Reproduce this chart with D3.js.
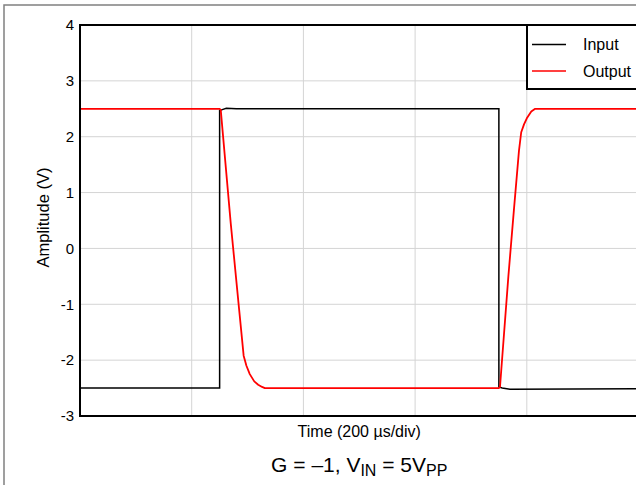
<!DOCTYPE html>
<html><head><meta charset="utf-8">
<script src="https://cdn.jsdelivr.net/npm/d3@7"></script>
<style>body{margin:0;background:#fff}svg{display:block;font-family:"Liberation Sans",Arial,sans-serif}</style>
</head><body>
<svg id="c" width="636" height="485"></svg>
<script>
const yTicks = [-3, -2, -1, 0, 1, 2, 3, 4];
const xGridTimes = [0, 200, 400, 600, 800, 1000];
const seriesNames = ["Input", "Output"];
const seriesColors = ["#000000", "#ff0000"];
const inputTime  = [0, 250, 250, 256, 262, 280, 750, 750, 756, 770, 1000];
const inputValue = [-2.5, -2.5, 2.47, 2.49, 2.51, 2.5, 2.5, -2.48, -2.5, -2.52, -2.51];
const outputTime  = [0, 250, 252, 270, 285, 293, 298, 304, 312, 319, 326, 331, 750, 752, 767, 777, 786, 790, 795, 800, 808, 815, 1000];
const outputValue = [2.5, 2.5, 2.48, 0.44, -1.1, -1.92, -2.1, -2.25, -2.38, -2.44, -2.48, -2.5, -2.5, -2.48, -0.5, 0.7, 1.75, 2.08, 2.22, 2.33, 2.45, 2.5, 2.5];

const svg = d3.select("#c");
const L = 80, T = 25, B = 416, R = 638.5;
const x = d3.scaleLinear().domain([0, 1000]).range([L, R]);
const y = d3.scaleLinear().domain([-3, 4]).range([B, T]);

// outer frame
svg.append("rect").attr("x", 4).attr("y", 5).attr("width", 700).attr("height", 600)
  .attr("fill", "none").attr("stroke", "#808080").attr("stroke-width", 1.5);

// grid
svg.append("g").selectAll("line").data(yTicks).join("line")
  .attr("x1", L).attr("x2", R).attr("y1", d => y(d)).attr("y2", d => y(d))
  .attr("stroke", "#d4d4d4").attr("stroke-width", 1);
svg.append("g").selectAll("line").data(xGridTimes).join("line")
  .attr("x1", d => x(d)).attr("x2", d => x(d)).attr("y1", T).attr("y2", B)
  .attr("stroke", "#d4d4d4").attr("stroke-width", 1);

// y tick labels via axis
const ya = svg.append("g").attr("transform", `translate(${L},0)`)
  .call(d3.axisLeft(y).tickValues(yTicks).tickSize(0).tickPadding(6).tickFormat(d => String(d)));
ya.select(".domain").remove();
ya.selectAll("text").attr("font-size", 15).attr("fill", "#000").attr("font-family", "Liberation Sans, Arial, sans-serif");

// lines
const line = d3.line().x(d => x(d[0])).y(d => y(d[1]));
const inp = inputTime.map((t, i) => [t, inputValue[i]]);
const out = outputTime.map((t, i) => [t, outputValue[i]]);
svg.append("path").datum(inp).attr("d", line).attr("fill", "none")
  .attr("stroke", seriesColors[0]).attr("stroke-width", 1.5);
svg.append("path").datum(out).attr("d", line).attr("fill", "none")
  .attr("stroke", seriesColors[1]).attr("stroke-width", 1.8).attr("stroke-linejoin", "round");

// plot frame
svg.append("rect").attr("x", L).attr("y", T).attr("width", R - L).attr("height", B - T)
  .attr("fill", "none").attr("stroke", "#000").attr("stroke-width", 2);

// legend
const lg = svg.append("g");
lg.append("rect").attr("x", 527).attr("y", 25).attr("width", 120).attr("height", 64)
  .attr("fill", "#fff").attr("stroke", "#000").attr("stroke-width", 2);
seriesNames.forEach((n, i) => {
  const yy = 44.5 + i * 26.5;
  lg.append("line").attr("x1", 532).attr("x2", 566).attr("y1", yy).attr("y2", yy)
    .attr("stroke", seriesColors[i]).attr("stroke-width", 1.3);
  lg.append("text").attr("x", 583).attr("y", yy + 5.5).attr("font-size", 16).text(n);
});

// axis titles
svg.append("text").attr("x", (L + R) / 2).attr("y", 437).attr("text-anchor", "middle")
  .attr("font-size", 16).text("Time (200 µs/div)");
svg.append("text").attr("transform", `translate(48.5,${(T + B) / 2 - 3}) rotate(-90)`)
  .attr("text-anchor", "middle").attr("font-size", 16.5).text("Amplitude (V)");

// subtitle
const st = svg.append("text").attr("x", (L + R) / 2).attr("y", 472).attr("text-anchor", "middle").attr("font-size", 21);
st.append("tspan").text("G = \u20131, V");
st.append("tspan").attr("font-size", 16).attr("dy", 4).text("IN");
st.append("tspan").attr("dy", -4).text(" = 5V");
st.append("tspan").attr("font-size", 16).attr("dy", 4).text("PP");
</script>
</body></html>
